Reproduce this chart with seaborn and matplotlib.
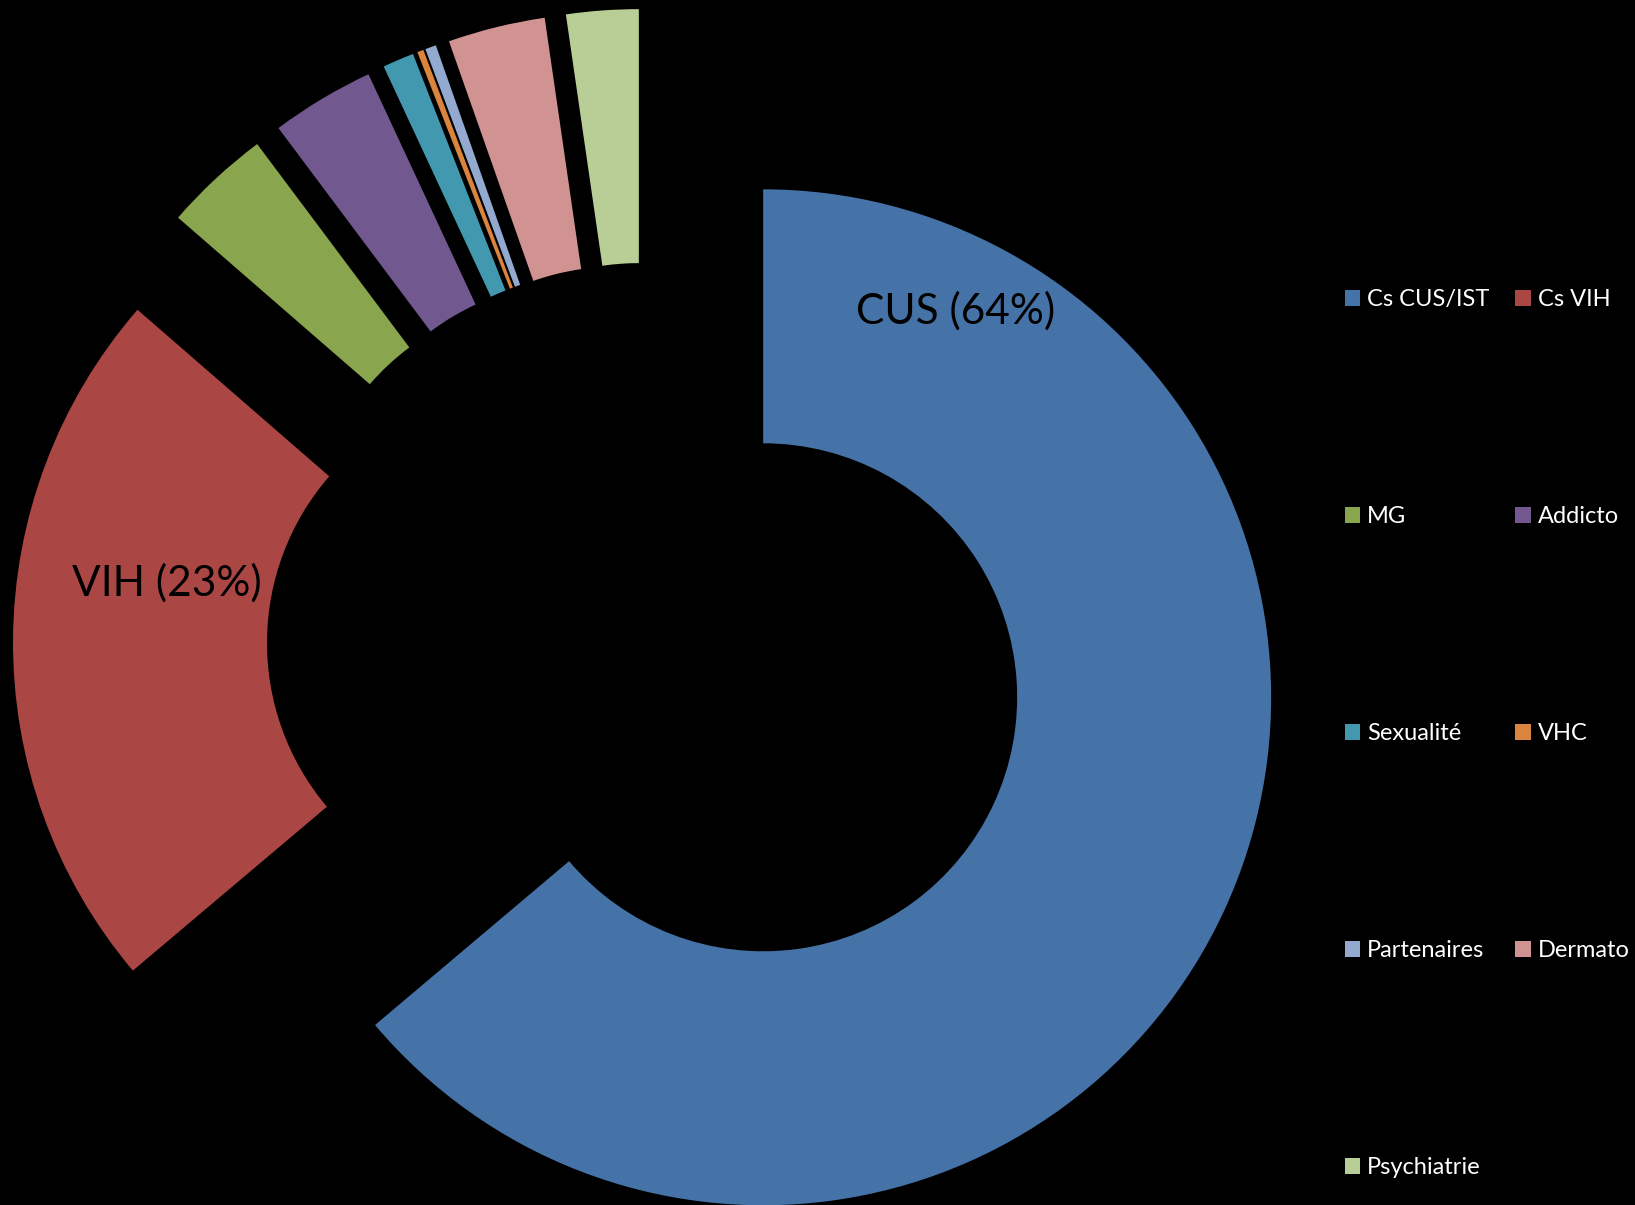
import matplotlib.pyplot as plt
import seaborn as sns

# consultation types (percent of all consultations)
categories = ['Cs CUS/IST', 'Cs VIH', 'MG', 'Addicto', 'Sexualité', 'VHC',
              'Partenaires', 'Dermato', 'Psychiatrie']
shares = [64.0, 22.6, 3.4, 3.3, 1.0, 0.2, 0.35, 3.1, 2.3]
colors = ['#4572A7', '#AA4643', '#89A54E', '#71588F', '#4198AF', '#DB843D',
          '#93A9CF', '#D19392', '#B9CD96']
slice_labels = {'Cs CUS/IST': 'CUS (64%)', 'Cs VIH': 'VIH (23%)'}

sns.set_theme(style='dark', rc={'axes.facecolor': 'black', 'figure.facecolor': 'black'})
plt.rcParams['font.family'] = ['Lato', 'DejaVu Sans']

fig = plt.figure(figsize=(16.35, 12.05), dpi=100)
ax = fig.add_axes([0, 0, 1, 1])
ax.set_facecolor('black')

wedges, _ = ax.pie(shares, colors=colors, startangle=90, counterclock=False,
                   explode=[0.25] * len(shares),
                   wedgeprops={'width': 0.5, 'linewidth': 0})

ax.text(0.606, 0.655, slice_labels['Cs CUS/IST'], ha='center', va='center',
        fontsize=30.5, color='black')
ax.text(-0.947, 0.120, slice_labels['Cs VIH'], ha='center', va='center',
        fontsize=30.5, color='black')

ax.set_xlim(-1.2756, 1.943)
ax.set_ylim(-1.1047, 1.2673)
ax.set_aspect('equal')
ax.axis('off')

# legend laid out row by row, two columns
order = [0, 2, 4, 6, 8, 1, 3, 5, 7]
fig.legend([wedges[i] for i in order], [categories[i] for i in order],
           ncol=2, loc='upper left', bbox_to_anchor=(0.8226, 0.760),
           frameon=False, fontsize=17, labelcolor='white',
           handlelength=0.64, handleheight=0.64, handletextpad=0.3,
           labelspacing=8.3, columnspacing=1.1, borderpad=0, borderaxespad=0)

plt.savefig('out.png', dpi=100, facecolor='black')
plt.close()
